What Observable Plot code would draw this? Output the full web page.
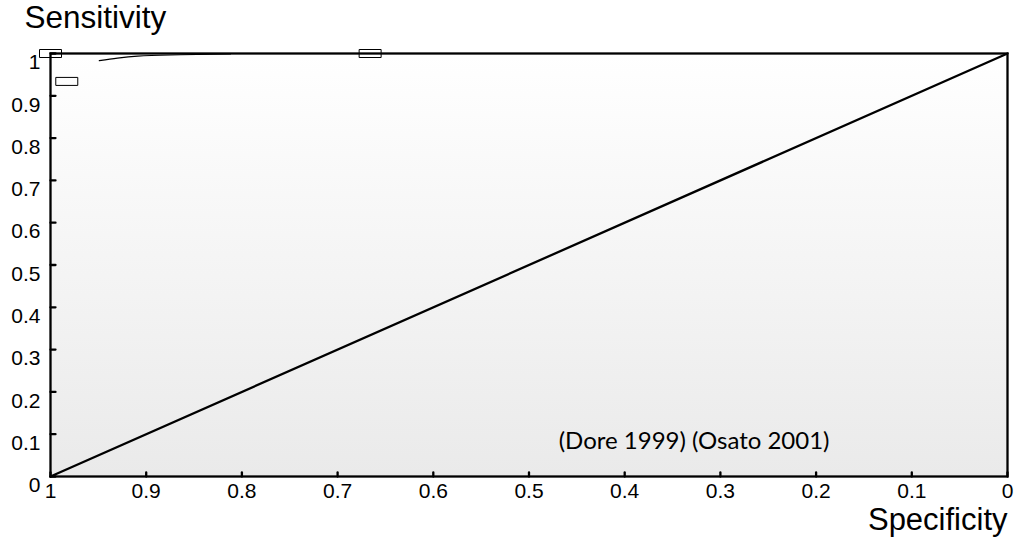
<!DOCTYPE html>
<html>
<head>
<meta charset="utf-8">
<script src="https://cdn.jsdelivr.net/npm/d3@7"></script>
<script src="https://cdn.jsdelivr.net/npm/@observablehq/plot@0.6"></script>
<style>
  html, body { margin: 0; padding: 0; background: #ffffff; }
  #chart svg { display: block; }
</style>
</head>
<body>
<div id="chart"></div>
<script>
// ---- data ----
const xTicks = [1, 0.9, 0.8, 0.7, 0.6, 0.5, 0.4, 0.3, 0.2, 0.1, 0];
const yTicks = [0, 0.1, 0.2, 0.3, 0.4, 0.5, 0.6, 0.7, 0.8, 0.9, 1];

// individual study estimates (boxes)
const studySpec = [1.0, 0.983, 0.666];
const studySens = [1.0, 0.934, 1.0];

// summary ROC curve
const srocSpec = [0.949, 0.930, 0.909, 0.864, 0.812];
const srocSens = [0.983, 0.989, 0.9936, 0.997, 0.999];

// chance diagonal
const diagSpec = [1, 0];
const diagSens = [0, 1];

// annotation
const annoText = ["(Dore 1999) (Osato 2001)"];
const annoSpec = [0.469];
const annoSens = [0.084];

const xLabel = "Specificity";
const yLabel = "Sensitivity";

// ---- tables built from the arrays ----
const studies = studySpec.map((s, i) => ({spec: s, sens: studySens[i]}));
const sroc = srocSpec.map((s, i) => ({spec: s, sens: srocSens[i]}));
const diag = diagSpec.map((s, i) => ({spec: s, sens: diagSens[i]}));
const anno = annoText.map((t, i) => ({text: t, spec: annoSpec[i], sens: annoSens[i]}));

// ---- shapes ----
const boxSymbol = { draw(ctx) { ctx.rect(-11, -4, 22, 8); } };
const tickShape = { draw(ctx, l) { ctx.moveTo(0, 0); ctx.lineTo(0, -l); } };

const gradientDefs = () => {
  const defs = d3.create("svg:defs");
  const g = defs.append("linearGradient").attr("id", "bgGrad")
    .attr("x1", 0).attr("y1", 0).attr("x2", 0).attr("y2", 1);
  g.append("stop").attr("offset", "0%").attr("stop-color", "#ffffff");
  g.append("stop").attr("offset", "100%").attr("stop-color", "#eaeaea");
  return defs.node();
};

const chart = Plot.plot({
  width: 1016,
  height: 543,
  marginLeft: 50,
  marginRight: 9,
  marginTop: 53,
  marginBottom: 67,
  style: { fontFamily: "'Liberation Sans', Arial, sans-serif", color: "#000", background: "#fff" },
  x: { domain: [1, 0] },
  y: { domain: [0, 1] },
  marks: [
    gradientDefs,
    Plot.frame({ fill: "url(#bgGrad)", stroke: "none" }),
    Plot.line(diag, { x: "spec", y: "sens", stroke: "#000", strokeWidth: 2.3 }),
    Plot.line(sroc, { x: "spec", y: "sens", stroke: "#000", strokeWidth: 1.2, curve: "monotone-x" }),
    Plot.frame({ stroke: "#000", strokeWidth: 2.3 }),
    Plot.dot(studies, { x: "spec", y: "sens", symbol: boxSymbol, stroke: "#000", strokeWidth: 1, fill: "none" }),
    Plot.vector(yTicks, { y: d => d, frameAnchor: "left", length: 5, rotate: 90, anchor: "start", shape: tickShape, stroke: "#000", strokeWidth: 2.3 }),
    Plot.vector(xTicks, { x: d => d, frameAnchor: "bottom", length: 4, rotate: 0, anchor: "start", shape: tickShape, stroke: "#000", strokeWidth: 2.3 }),
    Plot.axisY(yTicks, { tickSize: 0, tickPadding: 10, dy: 9, fontSize: 21, tickFormat: d => String(d), label: null, fill: "#000" }),
    Plot.axisX(xTicks, { tickSize: 0, tickPadding: 7, fontSize: 21, tickFormat: d => String(d), label: null, fill: "#000" }),
    Plot.text([yLabel], { text: d => d, frameAnchor: "top-left", textAnchor: "start", lineAnchor: "middle", dx: -26, dy: -35.1, fontSize: 31.5, fill: "#000" }),
    Plot.text([xLabel], { text: d => d, frameAnchor: "bottom-right", textAnchor: "end", lineAnchor: "middle", dx: 0, dy: 43.5, fontSize: 31, fill: "#000" }),
    Plot.text(anno, { x: "spec", y: "sens", text: "text", textAnchor: "start", lineAnchor: "middle", fontSize: 24, fontFamily: "Lato, 'Open Sans', sans-serif", fill: "#000" })
  ]
});

document.getElementById("chart").appendChild(chart);
</script>
</body>
</html>
